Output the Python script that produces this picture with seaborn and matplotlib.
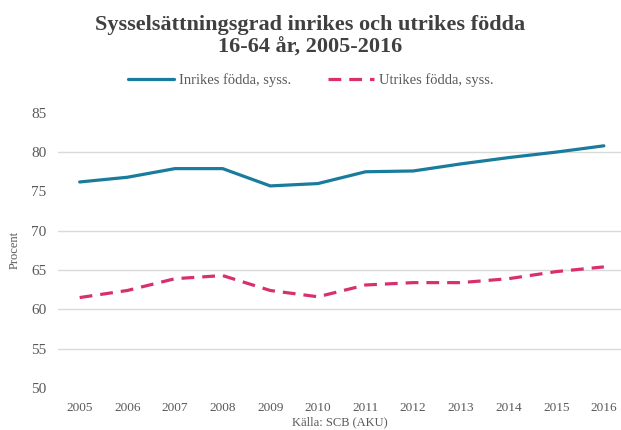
import matplotlib
matplotlib.use("Agg")
import matplotlib.pyplot as plt
from matplotlib.lines import Line2D
import seaborn as sns
import pandas as pd

# Data
years = ["2005", "2006", "2007", "2008", "2009", "2010",
         "2011", "2012", "2013", "2014", "2015", "2016"]
inrikes = [76.2, 76.8, 77.9, 77.9, 75.7, 76.0, 77.5, 77.6, 78.5, 79.3, 80.0, 80.8]
utrikes = [61.5, 62.4, 63.9, 64.3, 62.4, 61.6, 63.1, 63.4, 63.4, 63.9, 64.8, 65.4]
yticks = [50, 55, 60, 65, 70, 75, 80, 85]
gridvals = [55, 60, 65, 70, 80]

BLUE = "#1a7c9c"
PINK = "#d8306f"
TEXT = "#595959"

sns.set_theme(style="white")
plt.rcParams['font.family'] = ['Liberation Serif', 'DejaVu Serif']

df = pd.DataFrame({
    "x": list(range(len(years))) * 2,
    "val": inrikes + utrikes,
    "serie": ["Inrikes födda, syss."] * len(years) + ["Utrikes födda, syss."] * len(years),
})

fig = plt.figure(figsize=(6.21, 4.30), dpi=100)
ax = fig.add_axes([0.093, 0.0977, 0.907, 0.64])

for g in gridvals:
    ax.axhline(g, color="#d9d9d9", lw=1, zorder=0)

sns.lineplot(data=df, x="x", y="val", hue="serie", style="serie",
             palette=[BLUE, PINK], dashes=[(None, None), (4, 2.5)],
             linewidth=2.3, ax=ax, legend=False)

ax.set_xlim(-0.46, 11.36)
ax.set_ylim(50, 85)
ax.set_yticks(yticks)
ax.set_yticklabels([str(v) for v in yticks], fontsize=11, color=TEXT)
ax.set_xticks(range(len(years)))
ax.set_xticklabels(years, fontsize=9.5, color=TEXT)
ax.tick_params(axis="both", length=0, pad=8)
ax.tick_params(axis="x", pad=10)
for s in ax.spines.values():
    s.set_visible(False)
ax.set_xlabel("Källa: SCB (AKU)", fontsize=9, color=TEXT, labelpad=2)
ax.set_ylabel("Procent", fontsize=9, color=TEXT, labelpad=8)

fig.text(0.5, 0.915, "Sysselsättningsgrad inrikes och utrikes födda\n16-64 år, 2005-2016",
         ha="center", va="center", fontsize=16, fontweight="bold", color="#404040",
         linespacing=1.15)

# legend
handles = [Line2D([], [], color=BLUE, lw=2.3),
           Line2D([], [], color=PINK, lw=2.3, dashes=(4, 2.5))]
fig.legend(handles, ["Inrikes födda, syss.", "Utrikes födda, syss."],
           loc="center", bbox_to_anchor=(0.5, 0.813), ncol=2, frameon=False,
           fontsize=10.5, handlelength=3.2, handletextpad=0.3, columnspacing=2.5,
           labelcolor=TEXT)

fig.savefig("out.png", dpi=100)
